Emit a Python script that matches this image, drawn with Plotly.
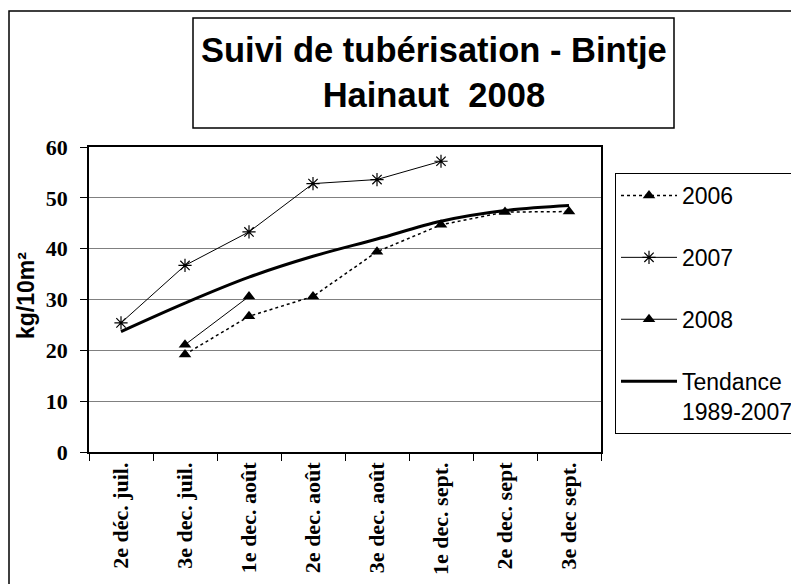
import plotly.graph_objects as go

categories = ["2e déc. juil.", "3e dec. juil.", "1e dec. août", "2e dec. août",
              "3e dec. août", "1e dec. sept.", "2e dec. sept", "3e dec sept."]
y2006 = [None, 19.2, 26.7, 30.6, 39.4, 44.7, 47.2, 47.3]
y2007 = [25.4, 36.7, 43.3, 52.8, 53.6, 57.2, None, None]
y2008 = [None, 21.1, 30.6, None, None, None, None, None]
tendance = [23.7, 29.3, 34.4, 38.5, 41.9, 45.4, 47.5, 48.5]
yticks = [0, 10, 20, 30, 40, 50, 60]

SANS = "Liberation Sans, Arial, sans-serif"
SERIF = "Liberation Serif, Times New Roman, serif"

fig = go.Figure()
fig.add_trace(go.Scatter(
    x=categories, y=y2006, name="2006", mode="lines+markers", legendgroup="a",
    line=dict(color="black", width=1.5, dash="dot"),
    marker=dict(symbol="triangle-up", size=11, color="black")))
fig.add_trace(go.Scatter(
    x=categories, y=y2007, name="2007", mode="lines+markers", legendgroup="b",
    line=dict(color="black", width=1),
    marker=dict(symbol="asterisk-open", size=11, color="black",
                line=dict(color="black", width=1.2))))
fig.add_trace(go.Scatter(
    x=categories, y=y2008, name="2008", mode="lines+markers", legendgroup="c",
    line=dict(color="black", width=1),
    marker=dict(symbol="triangle-up", size=11, color="black")))
fig.add_trace(go.Scatter(
    x=categories, y=tendance, name="Tendance<br>1989-2007", mode="lines", legendgroup="d",
    line=dict(color="black", width=3, shape="spline")))

# page body has an 8px margin: work in reference pixel coords, shifted by OFF
OFF = 8
W, H = 880, 584 - OFF
L, R, T, B = 89 - OFF, 601 - OFF, 147 - OFF, 452 - OFF
pw, ph = R - L, B - T

def px(x):
    return (x - OFF - L) / pw

def py(y):
    return (B - (y - OFF)) / ph

fig.update_layout(
    width=W, height=H,
    margin=dict(l=L, r=W - R, t=T, b=H - B, pad=0, autoexpand=False),
    paper_bgcolor="white", plot_bgcolor="white",
    showlegend=True,
    legend=dict(
        x=px(615), y=py(173), xanchor="left", yanchor="top",
        bordercolor="black", borderwidth=1, bgcolor="white",
        font=dict(family=SANS, size=23, color="black"),
        itemwidth=56, tracegroupgap=29, traceorder="grouped", valign="top"),
    xaxis=dict(
        type="category", categoryorder="array", categoryarray=categories,
        tickson="boundaries", ticks="outside", ticklen=7, tickcolor="black",
        tickangle=-90,
        tickfont=dict(family=SERIF, size=22, color="black", weight="bold"),
        showline=True, linecolor="black", linewidth=1.5, mirror=True,
        showgrid=False, range=[-0.5, 7.5]),
    yaxis=dict(
        range=[0, 60], tickvals=yticks, ticktext=[str(v) for v in yticks],
        ticks="outside", ticklen=7, tickcolor="black",
        tickfont=dict(family=SERIF, size=22, color="black", weight="bold"),
        ticklabelstandoff=8,
        showline=True, linecolor="black", linewidth=1.5, mirror=True,
        showgrid=True, gridcolor="#808080", gridwidth=1, zeroline=False),
    shapes=[
        dict(type="rect", xref="paper", yref="paper",
             x0=px(9), x1=px(830), y0=py(640), y1=py(11),
             line=dict(color="black", width=1.5), fillcolor="rgba(0,0,0,0)", layer="below"),
        dict(type="rect", xref="paper", yref="paper",
             x0=px(193), x1=px(674), y0=py(128), y1=py(18),
             line=dict(color="black", width=1.5), fillcolor="white"),
    ],
    annotations=[
        dict(xref="paper", yref="paper", x=px(434), y=py(73),
             xanchor="center", yanchor="middle", showarrow=False,
             text="Suivi de tubérisation - Bintje<br>Hainaut\u00a0\u00a02008",
             font=dict(family=SANS, size=34.5, color="black", weight="bold")),
        dict(xref="paper", yref="paper", x=px(26), y=py(296),
             xanchor="center", yanchor="middle", showarrow=False, textangle=-90,
             text="kg/10m²",
             font=dict(family=SANS, size=23, color="black", weight="bold")),
    ],
)

fig.write_html("out.html")
